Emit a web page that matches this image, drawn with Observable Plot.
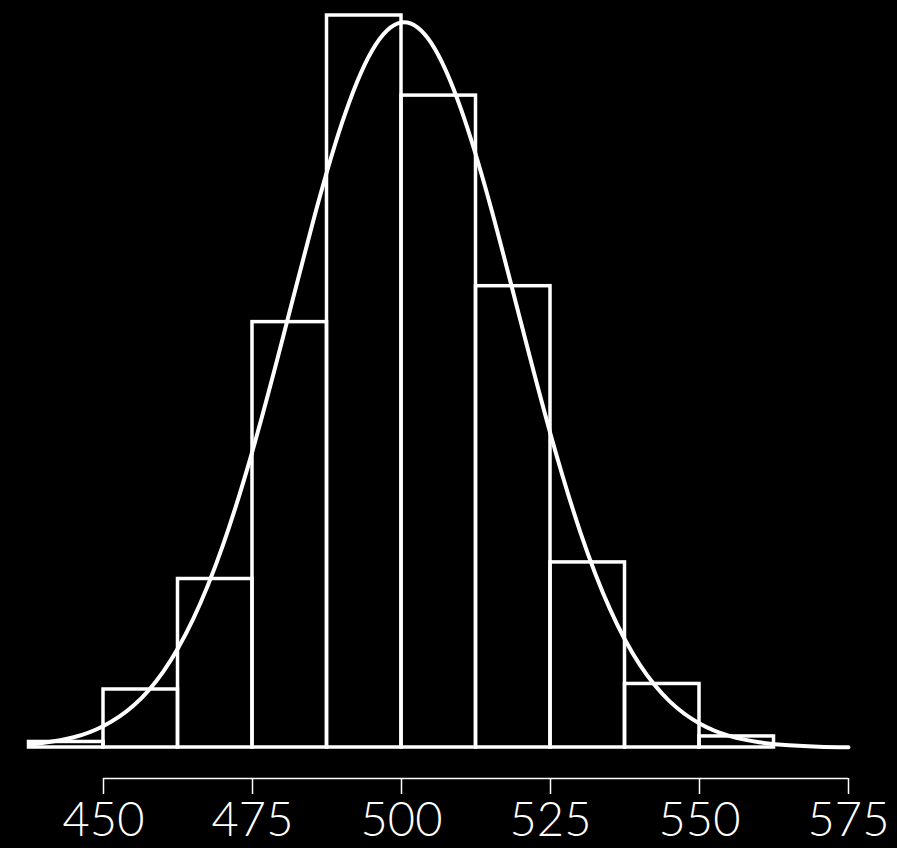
<!DOCTYPE html>
<html>
<head>
<meta charset="utf-8">
<script src="https://cdn.jsdelivr.net/npm/d3@7"></script>
<script src="https://cdn.jsdelivr.net/npm/@observablehq/plot@0.6"></script>
<style>
  html, body { margin: 0; padding: 0; background: #000; }
  #chart svg { display: block; }
</style>
</head>
<body>
<div id="chart"></div>
<script>
// Histogram bins (lower edge, upper edge) and counts
const binStart = [437.5, 450, 462.5, 475, 487.5, 500, 512.5, 525, 537.5, 550];
const binEnd   = [450, 462.5, 475, 487.5, 500, 512.5, 525, 537.5, 550, 562.5];
const counts   = [2, 21, 61, 154, 265, 236, 167, 67, 23, 4];

// Fitted density curve (in count units)
const curveX = [437.5, 440, 445, 450, 455, 460, 465, 470, 475, 480, 485, 490, 495, 500,
                505, 510, 515, 520, 525, 530, 535, 540, 545, 550, 555, 560, 565, 570, 575];
const curveY = [1.1, 1.7, 3.7, 7.8, 15.1, 27.4, 46.3, 73.0, 107.4, 147.5, 189.1, 226.0, 252.1, 262.5,
                255.0, 231.0, 195.5, 154.2, 113.5, 78.0, 50.0, 29.9, 16.7, 8.7, 4.2, 1.9, 0.8, 0.3, 0.1];

// Axis ticks
const tickValues = [450, 475, 500, 525, 550, 575];

const bins = binStart.map((s, i) => ({x1: s, x2: binEnd[i], y: counts[i]}));
const curve = curveX.map((x, i) => ({x, y: curveY[i]}));

const chart = Plot.plot({
  width: 897,
  height: 848,
  marginLeft: 28.5,
  marginRight: 49,
  marginTop: 15,
  marginBottom: 101,
  style: {background: "#000", color: "#fff", fontFamily: "Lato, 'Open Sans', sans-serif"},
  x: {domain: [437.5, 575]},
  y: {domain: [0, 265]},
  marks: [
    Plot.rectY(bins, {x1: "x1", x2: "x2", y: "y", fill: "none", stroke: "#fff", strokeWidth: 3.5, insetLeft: 0, insetRight: 0}),
    Plot.line(curve, {x: "x", y: "y", stroke: "#fff", strokeWidth: 4, curve: "natural", strokeLinecap: "round", strokeLinejoin: "round"}),
    Plot.ruleY([0], {x1: 450, x2: 575, dy: 31, stroke: "#fff", strokeWidth: 1.5}),
    Plot.axisX(tickValues, {
      ticks: tickValues, tickSize: 16, dy: 31, tickPadding: 8,
      stroke: "#fff", strokeWidth: 1.5, fontSize: 47, fontWeight: 300, fill: "#fff",
      tickFormat: d => String(d)
    }),
    Plot.axisY({ticks: [], label: null, tickSize: 0})
  ]
});
document.getElementById("chart").appendChild(chart);
</script>
</body>
</html>
